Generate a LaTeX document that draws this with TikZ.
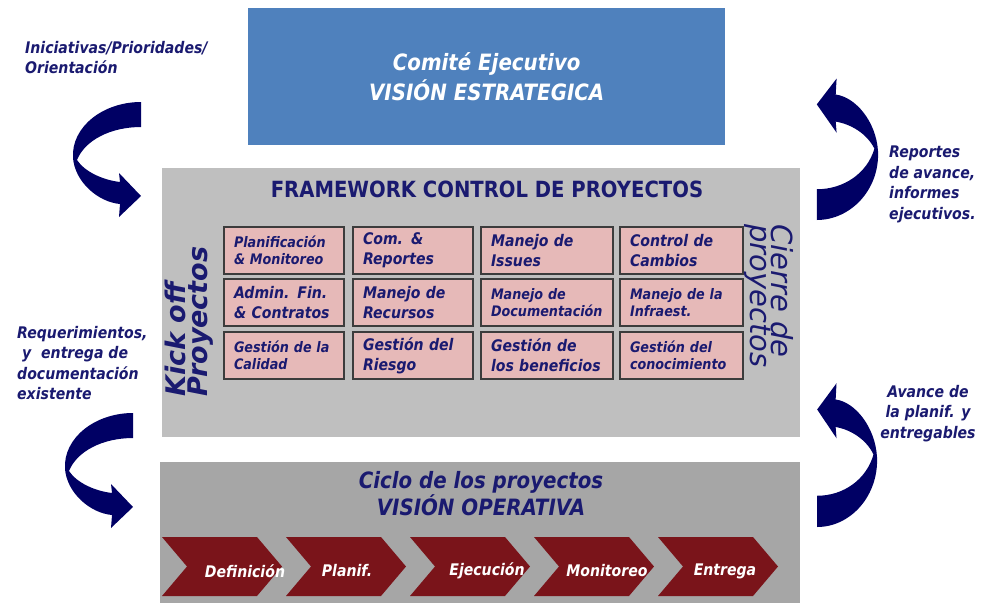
\documentclass[tikz,border=0pt]{standalone}
\usepackage{fontspec}
\setmainfont{DejaVu Sans}[FakeStretch=0.88]
\newfontfamily\widesans{DejaVu Sans}
\usetikzlibrary{positioning}
\definecolor{estrat}{RGB}{79,129,189}
\definecolor{fwgray}{RGB}{191,191,191}
\definecolor{opgray}{RGB}{166,166,166}
\definecolor{celda}{RGB}{230,185,184}
\definecolor{borde}{RGB}{60,60,60}
\definecolor{marino}{RGB}{26,26,112}
\definecolor{flecha}{RGB}{0,0,100}
\definecolor{vino}{RGB}{122,20,26}
\newcommand{\fs}[2]{\fontsize{#1}{#2}\selectfont}
\newcommand{\bi}{\bfseries\itshape}
\hyphenpenalty=10000
\tikzset{bendarrow/.pic={
  \fill[flecha] (68,0) .. controls (30,0) and (-2,25) .. (0,56)
    .. controls (2,80) and (25,100) .. (47,102) -- (46,115) -- (68,94) -- (46,71) -- (47,80)
    .. controls (30,78) and (12,70) .. (4,58)
    .. controls (12,38) and (38,25) .. (68,25) -- cycle;
}}

\begin{document}
\begin{tikzpicture}[x=1pt,y=-1pt,node distance=5pt and 9pt,
  caja/.style={anchor=north west,inner sep=0pt},
  cell/.style={draw=borde,line width=1.4pt,fill=celda,text=marino,align=left,inner xsep=10pt,inner ysep=0pt,outer sep=0pt,minimum height=47pt,text width=100pt},
  chico/.style={font=\fs{14.5}{17}\bi},
  grande/.style={font=\fs{16}{20}\bi},
  nota/.style={text=marino,font=\fs{16}{20.5}\bi,inner sep=0pt},
  etapa/.style={text=white,font=\fs{16}{18}\bi}]
\useasboundingbox (0,0) rectangle (988,603);
\node[caja,fill=estrat,minimum width=477pt,minimum height=137pt,align=center,text=white,font=\fs{22.5}{30}\bi] (comite) at (248,8) {Comité Ejecutivo\\VISIÓN ESTRATEGICA};
\node[caja,fill=fwgray,minimum width=638pt,minimum height=269pt] (framework) at (162,168) {};
\node[text=marino,font=\fs{22.3}{24}\bfseries] (fwtitulo) at (487,189) {FRAMEWORK CONTROL DE PROYECTOS};
\node[caja,fill=opgray,minimum width=640pt,minimum height=141pt] (operativa) at (160,462) {};
\node[align=center,text=marino,font=\fs{22.5}{27}\bi] (ciclo) at (481,494) {Ciclo de los proyectos\\VISIÓN OPERATIVA};
%
\node[cell,chico,anchor=north west] (plan) at (224,227) {Planificación\\\& Monitoreo};
\node[cell,grande,right=of plan]                      (com)      {Com. \&\\Reportes};
\node[cell,grande,right=8pt of com,text width=112pt]  (issues)   {Manejo de\\Issues};
\node[cell,grande,right=7pt of issues,text width=103pt] (cambios) {Control de\\Cambios};
\node[cell,grande,below=of plan]                      (admin)    {Admin. Fin.\\\& Contratos};
\node[cell,grande,below=of com]                       (recursos) {Manejo de\\Recursos};
\node[cell,chico,below=of issues,text width=112pt]    (docum)    {Manejo de\\Documentación};
\node[cell,chico,below=of cambios,text width=103pt]   (infra)    {Manejo de la\\Infraest.};
\node[cell,chico,below=6pt of admin]                  (calidad)  {Gestión de la\\Calidad};
\node[cell,grande,below=6pt of recursos]              (riesgo)   {Gestión del\\Riesgo};
\node[cell,grande,below=6pt of docum,text width=112pt] (benef)   {Gestión de\\los beneficios};
\node[cell,chico,below=6pt of infra,text width=103pt] (conoc)    {Gestión del\\conocimiento};
%
\node[rotate=90,anchor=west,align=left,inner sep=0pt,text=marino,font=\widesans\fs{27}{22}\bi] (kickoff) at (189,397) {Kick off\\Proyectos};
\node[rotate=-90,anchor=west,align=left,inner sep=0pt,text=marino,font=\widesans\fs{29}{20}\itshape] (cierre) at (769,224) {Cierre de\\proyectos};
%
\foreach \x/\dx/\t [count=\i] in {162/83/Definición,286/61/Planif.,410/77/Ejecución,534/73/Monitoreo,658/67/Entrega}{
  \fill[vino] (\x,537) -- ++(95,0) -- ++(25,29.5) -- ++(-25,29.5) -- ++(-95,0) -- ++(25,-29.5) -- cycle;
  \node[etapa] (etapa\i) at (\x+\dx,571) {\t};
}
%
\node[nota,anchor=north west,align=left] (iniciativas) at (25,41) {Iniciativas/Prioridades/\\Orientación};
\node[nota,anchor=north west,align=left] (reportes) at (889,146) {Reportes\\de avance,\\informes\\ejecutivos.};
\node[nota,anchor=north west,align=left] (requer) at (17,326) {Requerimientos,\\\hspace*{5pt}y\ \ entrega de\\documentación\\existente};
\node[nota,anchor=north,align=center] (avance) at (928,385) {Avance de\\la planif. y\\entregables};
%
\pic (flechaIni) at (73,102) {bendarrow};
\pic (flechaReq) at (65,413) {bendarrow};
\pic[xscale=-0.9,yscale=-1.23] (flechaRep) at (878,220) {bendarrow};
\pic[xscale=-0.88,yscale=-1.25] (flechaAva) at (877,527) {bendarrow};
\end{tikzpicture}
\end{document}
